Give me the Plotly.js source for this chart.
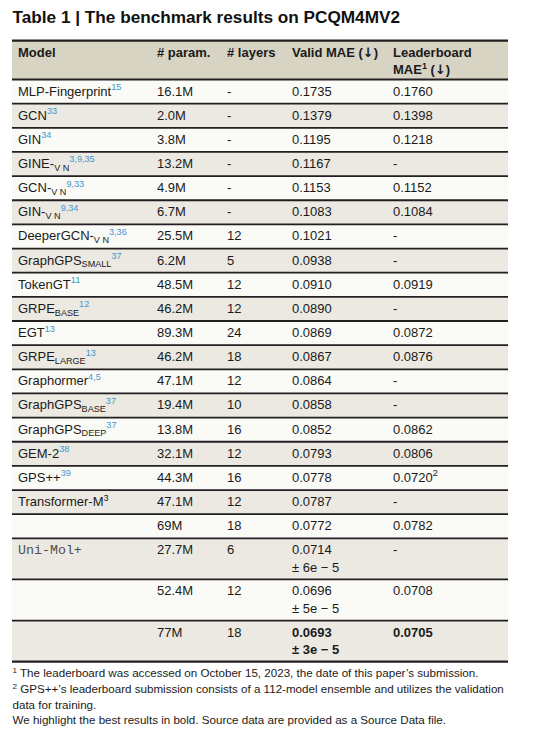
<!DOCTYPE html>
<html>
<head>
<meta charset="utf-8">
<script src="https://cdn.plot.ly/plotly-3.0.1.min.js"></script>
<style>html,body{margin:0;padding:0;background:#fff;}#chart{width:537px;height:744px;}</style>
</head>
<body>
<div id="chart"></div>
<script>
// ---------------- data ----------------
const titleText = 'Table 1 | The benchmark results on PCQM4MV2';
const ARROW = '<span style="font-family:\'DejaVu Sans\'">↓</span>';
const headers = ['Model', '# param.', '# layers', 'Valid MAE (' + ARROW + ')', 'Leaderboard\nMAE<sup>1</sup> (' + ARROW + ')'];
const models = ['MLP-Fingerprint', 'GCN', 'GIN', 'GINE-<sub>V N</sub>', 'GCN-<sub>V N</sub>', 'GIN-<sub>V N</sub>',
  'DeeperGCN-<sub>V N</sub>', 'GraphGPS<sub>SMALL</sub>', 'TokenGT', 'GRPE<sub>BASE</sub>', 'EGT', 'GRPE<sub>LARGE</sub>',
  'Graphormer', 'GraphGPS<sub>BASE</sub>', 'GraphGPS<sub>DEEP</sub>', 'GEM-2', 'GPS++', 'Transformer-M', '', 'Uni-Mol+', '', ''];
const refs = ['15', '33', '34', '3,9,35', '9,33', '9,34', '3,36', '37', '11', '12', '13', '13', '4,5', '37', '37', '38', '39', '3', '', '', '', ''];
const params = ['16.1M', '2.0M', '3.8M', '13.2M', '4.9M', '6.7M', '25.5M', '6.2M', '48.5M', '46.2M', '89.3M', '46.2M',
  '47.1M', '19.4M', '13.8M', '32.1M', '44.3M', '47.1M', '69M', '27.7M', '52.4M', '77M'];
const layers = ['-', '-', '-', '-', '-', '-', '12', '5', '12', '12', '24', '18', '12', '10', '16', '12', '16', '12', '18', '6', '12', '18'];
const validMAE = [0.1735, 0.1379, 0.1195, 0.1167, 0.1153, 0.1083, 0.1021, 0.0938, 0.0910, 0.0890, 0.0869, 0.0867,
  0.0864, 0.0858, 0.0852, 0.0793, 0.0778, 0.0787, 0.0772, 0.0714, 0.0696, 0.0693];
const validStd = [null, null, null, null, null, null, null, null, null, null, null, null,
  null, null, null, null, null, null, null, 6e-5, 5e-5, 3e-5];
const leaderMAE = [0.1760, 0.1398, 0.1218, null, 0.1152, 0.1084, null, null, 0.0919, null, 0.0872, 0.0876,
  null, null, 0.0862, 0.0806, 0.0720, null, 0.0782, null, 0.0708, 0.0705];
const leaderNote = ['', '', '', '', '', '', '', '', '', '', '', '', '', '', '', '', '2', '', '', '', '', ''];
const footnotes = [
  '<sup>1</sup> The leaderboard was accessed on October 15, 2023, the date of this paper’s submission.',
  '<sup>2</sup> GPS++’s leaderboard submission consists of a 112-model ensemble and utilizes the validation',
  'data for training.',
  'We highlight the best results in bold. Source data are provided as a Source Data file.'
];

// ---------------- layout constants ----------------
const W = 537, H = 744;
const tableLeft = 12, tableRight = 508;
const colX = [18, 157, 227, 292, 393];
const headerTop = 40.7, headerH = 38.8;
const singleH = 24.15, doubleH = 41.1;
const basePad = 16, lineGap = 17.6;
const FS = 13;
const SANS = '"Liberation Sans", Arial, sans-serif';
const MONO = '"Liberation Mono", "Courier New", monospace';
const TXT = '#1a1a1a', REF = '#3f97d3', LINE = '#231f20';
const HEADER_FILL = '#d7d4c4', ROW_A = '#fafaf6', ROW_B = '#ebe9e1';

const bestValid = Math.min(...validMAE);
const bestLeader = Math.min(...leaderMAE.filter(v => v != null));

function fmtStd(v) {
  const e = Math.floor(Math.log10(v) + 1e-9);
  const m = Math.round(v / Math.pow(10, e));
  return '± ' + m + 'e − ' + (-e);
}

// row geometry
const rowTop = [], rowH = [];
let yCur = headerTop + headerH;
for (let i = 0; i < models.length; i++) {
  const h = validStd[i] != null ? doubleH : singleH;
  rowTop.push(yCur); rowH.push(h); yCur += h;
}
const tableBottom = yCur;

// background bars
const bgY = [headerTop + headerH / 2], bgW = [headerH], bgC = [HEADER_FILL];
for (let i = 0; i < models.length; i++) {
  bgY.push(rowTop[i] + rowH[i] / 2); bgW.push(rowH[i]); bgC.push(i % 2 === 0 ? ROW_A : ROW_B);
}
const traces = [];
traces.push({
  type: 'bar', orientation: 'h', y: bgY, x: bgY.map(() => tableRight - tableLeft), base: tableLeft,
  width: bgW, marker: {color: bgC, line: {width: 0}}, hoverinfo: 'skip'
});

// rules
function ruleTrace(ys, w) {
  const xs = [], yy = [];
  ys.forEach(y => { xs.push(tableLeft, tableRight, null); yy.push(y, y, null); });
  return {type: 'scatter', mode: 'lines', x: xs, y: yy, line: {color: LINE, width: w}, hoverinfo: 'skip'};
}
const thin = [];
for (let i = 0; i < models.length - 1; i++) thin.push(rowTop[i] + rowH[i]);
traces.push(ruleTrace(thin, 1.8));
traces.push(ruleTrace([headerTop, headerTop + headerH, tableBottom], 2.2));

// text helpers
function textTrace(xs, ys, texts, font) {
  return {type: 'scatter', mode: 'text', x: xs, y: ys, text: texts, textposition: 'middle right',
    textfont: font, cliponaxis: false, hoverinfo: 'skip'};
}
function baseY(b, fs) { return b - 0.25 * fs; }

// header
{
  const xs = [], ys = [], ts = [];
  headers.forEach((h, c) => {
    h.split('\n').forEach((ln, k) => {
      xs.push(colX[c]); ys.push(baseY(headerTop + basePad + k * lineGap, FS)); ts.push(ln);
    });
  });
  traces.push(textTrace(xs, ys, ts, {family: SANS, size: FS, color: TXT, weight: 'bold'}));
}

// body
{
  const xs = [], ys = [], ts = [];
  const mx = [], my = [], mt = [];
  for (let i = 0; i < models.length; i++) {
    const b = rowTop[i] + basePad;
    if (models[i] === 'Uni-Mol+') {
      mx.push(colX[0]); my.push(baseY(b, FS)); mt.push(models[i]);
    } else if (models[i]) {
      const rc = models[i] === 'Transformer-M' ? TXT : REF;
      xs.push(colX[0]); ys.push(baseY(b, FS));
      ts.push(models[i] + (refs[i] ? '<sup><span style="color:' + rc + '">' + refs[i] + '</span></sup>' : ''));
    }
    xs.push(colX[1]); ys.push(baseY(b, FS)); ts.push(params[i]);
    xs.push(colX[2]); ys.push(baseY(b, FS)); ts.push(layers[i]);
    const vb = validMAE[i] === bestValid;
    xs.push(colX[3]); ys.push(baseY(b, FS));
    ts.push(vb ? '<b>' + validMAE[i].toFixed(4) + '</b>' : validMAE[i].toFixed(4));
    if (validStd[i] != null) {
      xs.push(colX[3]); ys.push(baseY(b + lineGap, FS));
      ts.push(vb ? '<b>' + fmtStd(validStd[i]) + '</b>' : fmtStd(validStd[i]));
    }
    let lt = leaderMAE[i] == null ? '-' : leaderMAE[i].toFixed(4);
    if (leaderMAE[i] === bestLeader) lt = '<b>' + lt + '</b>';
    if (leaderNote[i]) lt += '<sup>' + leaderNote[i] + '</sup>';
    xs.push(colX[4]); ys.push(baseY(b, FS)); ts.push(lt);
  }
  traces.push(textTrace(xs, ys, ts, {family: SANS, size: FS, color: TXT}));
  traces.push(textTrace(mx, my, mt, {family: MONO, size: 13.3, color: '#505050'}));
}

// title
traces.push(textTrace([12.5], [baseY(23.3, 17.2)], ['<b>' + titleText + '</b>'], {family: SANS, size: 17.2, color: '#111'}));

// footnotes
{
  const fs = 11.6;
  const fb = [677.5, 693.5, 708.8, 724];
  traces.push(textTrace(footnotes.map(() => 12.5), fb.map(b => baseY(b, fs)), footnotes,
    {family: SANS, size: fs, color: TXT}));
}

const layout = {
  width: W, height: H, margin: {l: 0, r: 0, t: 0, b: 0},
  paper_bgcolor: '#ffffff', plot_bgcolor: '#ffffff', showlegend: false,
  xaxis: {range: [0, W], visible: false, fixedrange: true},
  yaxis: {range: [H, 0], visible: false, fixedrange: true},
  bargap: 0
};
Plotly.newPlot('chart', traces, layout, {staticPlot: true, displayModeBar: false});
</script>
</body>
</html>
